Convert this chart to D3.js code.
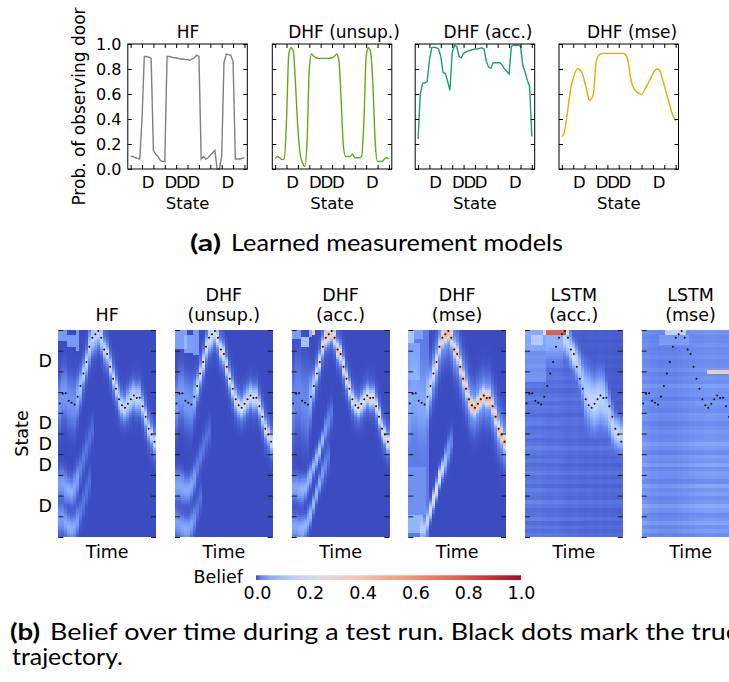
<!DOCTYPE html>
<html><head><meta charset="utf-8">
<script src="https://cdn.jsdelivr.net/npm/d3@7"></script>
<style>body{margin:0;background:#fff}svg{display:block}</style>
</head><body><svg id="c" width="729" height="682"></svg>
<script>
// ---------- (a) measurement models ----------
const statesTop = [0,0.2,0.4,0.6,0.8,1,1.2,1.4,1.6,1.8,2,2.2,2.4,2.6,2.8,3,3.2,3.4,3.6,3.8,4,4.2,4.4,4.6,4.8,5,5.2,5.4,5.6,5.8,6,6.2,6.4,6.6,6.8,7,7.2,7.4,7.6,7.8,8,8.2,8.4,8.6,8.8,9,9.2,9.4,9.6,9.8,10];
const stateTicks = [0,1,2,3,4,5,6,7,8,9,10];
const doorStates = [1.5,3.5,4.5,5.5,8.5];
const probTicks = [0,0.2,0.4,0.6,0.8,1.0];
const topTitles = ["HF","DHF (unsup.)","DHF (acc.)","DHF (mse)"];
const hfModel = [0.10,0.10,0.09,0.085,0.08,0.40,0.90,0.90,0.895,0.885,0.15,0.12,0.10,0.07,0.06,0.06,0.90,0.90,0.895,0.89,0.89,0.885,0.88,0.88,0.875,0.875,0.87,0.88,0.89,0.91,0.90,0.08,0.10,0.08,0.09,0.11,0.13,0.15,0.0,0.0,0.10,0.85,0.92,0.915,0.91,0.86,0.08,0.08,0.08,0.085,0.09];
const unsupModel = [0.085,0.10,0.09,0.075,0.08,0.39,0.92,0.97,0.94,0.66,0.32,0.12,0.05,0.02,0.20,0.80,0.92,0.90,0.89,0.885,0.885,0.885,0.885,0.885,0.887,0.89,0.90,0.92,0.87,0.55,0.18,0.10,0.10,0.10,0.12,0.09,0.09,0.09,0.10,0.39,0.90,0.97,0.93,0.65,0.20,0.06,0.06,0.06,0.08,0.09,0.08];
const accModel = [0.24,0.60,0.685,0.69,0.70,0.87,0.97,0.975,0.97,0.96,0.90,0.77,0.765,0.70,0.63,0.93,0.99,0.98,0.90,0.89,0.925,0.935,0.945,0.95,0.955,0.96,0.96,0.965,0.97,0.96,0.86,0.815,0.805,0.85,0.85,0.85,0.85,0.83,0.80,0.78,0.76,0.98,0.99,0.99,0.99,0.985,0.83,0.78,0.71,0.66,0.26];
const mseModel = [0.26,0.29,0.39,0.53,0.65,0.725,0.78,0.805,0.79,0.765,0.70,0.625,0.55,0.56,0.62,0.85,0.905,0.92,0.925,0.925,0.925,0.925,0.925,0.925,0.925,0.925,0.925,0.925,0.915,0.87,0.75,0.67,0.635,0.615,0.605,0.595,0.62,0.655,0.69,0.725,0.76,0.79,0.80,0.79,0.73,0.67,0.60,0.54,0.47,0.42,0.385];

// ---------- (b) belief over time ----------
const heatTitles = [["HF"],["DHF","(unsup.)"],["DHF","(acc.)"],["DHF","(mse)"],["LSTM","(acc.)"],["LSTM","(mse)"]];
const trueState = [6.45,6.92,6.94,6.58,6.48,6.40,6.77,7.29,7.90,8.45,9.19,9.63,9.79,9.95,9.63,9.06,8.84,8.23,7.65,7.16,6.65,6.37,6.24,6.44,6.65,6.84,6.71,6.73,6.32,5.81,5.23,4.95,4.60];
const cbTicks = [0,0.2,0.4,0.6,0.8,1.0];
// main belief ridge (peak, spread) per time step
const hfMainAmp = [0.03,0.035,0.035,0.03,0.03,0.03,0.04,0.08,0.12,0.14,0.12,0.12,0.12,0.14,0.14,0.16,0.18,0.18,0.18,0.18,0.15,0.15,0.15,0.13,0.13,0.13,0.13,0.13,0.16,0.18,0.18,0.18,0.18];
const hfMainSig = [0.6,0.6,0.6,0.6,0.6,0.6,0.5,0.35,0.25,0.25,0.35,0.35,0.35,0.3,0.3,0.22,0.2,0.2,0.2,0.2,0.25,0.25,0.25,0.3,0.3,0.3,0.3,0.3,0.22,0.2,0.2,0.2,0.2];
const unMainAmp = [0.035,0.035,0.035,0.035,0.035,0.035,0.05,0.15,0.2,0.22,0.2,0.2,0.2,0.22,0.25,0.3,0.3,0.3,0.25,0.22,0.22,0.2,0.22,0.2,0.18,0.18,0.18,0.18,0.2,0.22,0.22,0.22,0.25];
const unMainSig = [0.6,0.6,0.6,0.6,0.6,0.6,0.45,0.25,0.22,0.22,0.25,0.3,0.3,0.25,0.2,0.2,0.2,0.2,0.2,0.2,0.22,0.22,0.22,0.25,0.25,0.25,0.25,0.25,0.22,0.2,0.2,0.2,0.2];
const acMainAmp = [0.02,0.02,0.02,0.02,0.02,0.025,0.05,0.12,0.25,0.28,0.32,0.35,0.38,0.4,0.4,0.42,0.4,0.38,0.32,0.28,0.28,0.26,0.26,0.25,0.25,0.25,0.25,0.26,0.28,0.3,0.3,0.3,0.32];
const acMainSig = [0.9,0.9,0.9,0.9,0.9,0.9,0.6,0.3,0.2,0.2,0.2,0.2,0.2,0.2,0.2,0.2,0.2,0.2,0.2,0.2,0.2,0.2,0.2,0.22,0.22,0.22,0.22,0.22,0.2,0.2,0.2,0.2,0.2];
const msMainAmp = [0.04,0.04,0.04,0.04,0.04,0.04,0.06,0.12,0.2,0.25,0.3,0.4,0.42,0.45,0.42,0.4,0.4,0.4,0.4,0.4,0.45,0.45,0.45,0.42,0.42,0.42,0.45,0.45,0.42,0.42,0.42,0.45,0.45];
const msMainSig = [1.0,1.0,1.0,1.0,1.0,1.0,0.7,0.35,0.25,0.22,0.2,0.2,0.2,0.2,0.2,0.2,0.2,0.2,0.2,0.2,0.2,0.2,0.2,0.2,0.2,0.2,0.2,0.2,0.2,0.2,0.2,0.2,0.2];
// secondary hypotheses: [time, state, peak, spread]
const hfTrackA = [[0,2.6,0.04,0.35],[1,2.6,0.045,0.35],[2,2.4,0.05,0.35],[3,2.3,0.06,0.3],[4,2.2,0.06,0.3],[5,2.4,0.05,0.35],[6,2.8,0.04,0.35],[7,3.3,0.015,0.3],[8,3.8,0.012,0.3],[9,4.3,0.01,0.3],[10,4.8,0.008,0.3],[11,5.2,0.006,0.3]];
const hfTrackB = [[0,0.9,0.04,0.35],[1,0.9,0.04,0.35],[2,0.7,0.05,0.3],[3,0.5,0.06,0.3],[4,0.4,0.06,0.3],[5,0.5,0.05,0.3],[6,0.8,0.04,0.3],[7,1.2,0.012,0.3],[8,1.7,0.01,0.3],[9,2.2,0.008,0.3],[10,2.7,0.006,0.3]];
const unTrackA = [[0,2.5,0.05,0.35],[1,2.5,0.05,0.35],[2,2.4,0.05,0.35],[3,2.3,0.055,0.3],[4,2.3,0.055,0.3],[5,2.5,0.05,0.3],[6,2.9,0.04,0.3],[7,3.4,0.015,0.3],[8,3.9,0.012,0.3],[9,4.4,0.01,0.3],[10,4.8,0.008,0.3],[11,5.1,0.006,0.3]];
const unTrackB = [[0,0.7,0.045,0.3],[1,0.6,0.045,0.3],[2,0.5,0.05,0.3],[3,0.4,0.055,0.3],[4,0.4,0.05,0.3],[5,0.6,0.045,0.3],[6,0.9,0.03,0.3],[7,1.4,0.01,0.3],[8,1.9,0.008,0.3]];
const acTrackA = [[0,2.4,0.05,0.3],[1,2.4,0.05,0.3],[2,2.3,0.06,0.3],[3,2.3,0.07,0.3],[4,2.4,0.07,0.25],[5,2.7,0.07,0.25],[6,3.0,0.08,0.22],[7,3.4,0.08,0.2],[8,3.8,0.1,0.2],[9,4.2,0.12,0.2],[10,4.7,0.08,0.2],[11,5.2,0.04,0.25],[12,5.6,0.02,0.3],[13,6.0,0.01,0.3]];
const acTrackB = [[0,0.5,0.05,0.3],[1,0.5,0.05,0.3],[2,0.4,0.06,0.3],[3,0.4,0.07,0.3],[4,0.55,0.07,0.25],[5,0.8,0.07,0.25],[6,1.1,0.08,0.22],[7,1.6,0.08,0.2],[8,2.1,0.08,0.2],[9,2.6,0.06,0.2],[10,3.1,0.04,0.25],[11,3.5,0.02,0.3],[12,3.9,0.01,0.3]];
const msTrackD = [[4,0.3,0.08,0.3],[5,0.4,0.12,0.25],[6,0.8,0.18,0.22],[7,1.3,0.22,0.2],[8,1.8,0.32,0.2],[9,2.3,0.28,0.2],[10,2.9,0.32,0.2],[11,3.3,0.22,0.2],[12,3.7,0.1,0.25],[13,4.2,0.04,0.3],[14,4.6,0.015,0.3]];
const laTrack = [[7,9.5,0.06,0.5],[8,9.5,0.06,0.5],[9,9.5,0.06,0.5],[10,9.5,0.06,0.5],[11,9.5,0.06,0.5],[12,9.5,0.06,0.5],[13,9.6,0.15,0.35],[14,9.4,0.15,0.35],[15,9.1,0.15,0.35],[16,8.8,0.25,0.3],[17,8.5,0.15,0.35],[18,8.1,0.12,0.4],[19,7.6,0.1,0.45],[20,7.0,0.12,0.6],[21,6.8,0.14,0.6],[22,6.6,0.16,0.6],[23,6.5,0.16,0.6],[24,6.6,0.16,0.6],[25,6.7,0.14,0.6],[26,6.6,0.14,0.6],[27,6.3,0.12,0.5],[28,5.9,0.12,0.45],[29,5.4,0.14,0.4],[30,5.1,0.17,0.35],[31,5.0,0.17,0.35],[32,4.9,0.14,0.35]];
// flat regions: [t from, t to, state low, state high, belief]
const hfPatches = [[0,2,9.5,10,0.035],[3,5,9.2,9.8,0.035],[6,6,9.0,10,0.035]];
const unPatches = [[0,3,9.1,10,0.04],[3,5,8.95,9.8,0.04],[6,7,8.8,10,0.035]];
const acPatches = [[0,2,9.6,10,0.04],[3,5,9.2,9.7,0.1],[6,6,9.7,10,0.06],[7,7,9.85,10,0.35]];
const msPatches = [[0,6,0,10,0.012],[0,1,9.4,10,0.1],[2,4,9.6,10,0.03],[0,3,7.6,9.4,0.03],[0,4,0.2,1.1,0.06],[0,5,1.1,3.4,0.015]];
const laPatches = [[7,13,9.85,10,0.7],[6,6,9.85,10,0.2],[14,14,9.85,10,0.15],[0,6,9.0,10,0.04],[2,5,9.3,9.8,0.08],[0,6,7.5,9,0.02]];
const lmPatches = [[8,14,9.85,10,0.15],[6,15,9.3,9.85,0.02],[22,32,7.95,8.05,0.3]];
// LSTM background streaks per state row (0.2 state each) and per-column strength
const laStripes = [0.01,0.006,0.009,0.005,0.012,0.007,0.005,0.01,0.015,0.006,0.008,0.011,0.005,0.009,0.006,0.012,0.008,0.005,0.01,0.006,0.009,0.014,0.008,0.005,0.01,0.008,0.006,0.011,0.009,0.005,0.008,0.01,0.006,0.012,0.008,0.005,0.009,0.006,0.01,0.008,0.005,0.01,0.006,0.009,0.005,0.008,0.01,0.006,0.009,0.01];
const laColFactor = [1.3,1.3,1.2,1.2,1.3,1.2,1.1,1.0,1.0,1.0,1.1,1.0,0.9,0.8,0.7,0.7,0.8,0.8,0.7,0.7,0.6,0.7,0.7,0.6,0.6,0.7,0.6,0.6,0.7,0.6,0.6,0.6,0.6];
const lmStripes = [0.02,0.032,0.022,0.04,0.026,0.02,0.033,0.045,0.026,0.022,0.033,0.026,0.04,0.02,0.03,0.033,0.022,0.04,0.026,0.033,0.02,0.03,0.04,0.026,0.022,0.03,0.024,0.018,0.027,0.03,0.02,0.024,0.03,0.018,0.027,0.024,0.035,0.02,0.024,0.018,0.027,0.02,0.018,0.024,0.02,0.018,0.024,0.02,0.018,0.024];
const lmColFactor = [1.2,1.1,1.0,0.9,0.9,0.8,0.8,0.8,0.8,0.8,0.8,0.8,0.9,0.9,1.0,1.0,1.1,1.1,1.2,1.2,1.2,1.3,1.3,1.3,1.3,1.2,1.2,1.2,1.2,1.2,1.2,1.2,1.2];

const coolwarm = d3.piecewise(d3.interpolateRgb, ["#3b4cc0","#6282ea","#8db0fe","#b8d0f9","#dddcdc","#f5c4ad","#f49a7b","#de604d","#b40426"]);
const color = d3.scaleSequentialSqrt(coolwarm).domain([0,1]).clamp(true);

const svg = d3.select("#c");
const FONT = "DejaVu Sans, sans-serif";
function styleAxis(sel, size){
  sel.select(".domain").remove();
  sel.attr("font-family",FONT).attr("font-size",size||16);
  sel.selectAll("line").attr("stroke","#000");
  sel.selectAll("text").attr("fill","#000");
}

// ===== top row =====
const topX = [127.8,272.3,415.2,559];
const topTitleX = [188,344,488,632];
const topData = [hfModel,unsupModel,accModel,mseModel];
const topColors = ["#7f7f7f","#66a61e","#1b9e77","#e6ab02"];
const topCurves = [d3.curveLinear,d3.curveMonotoneX,d3.curveLinear,d3.curveMonotoneX];
const TW = 119.5, TY0 = 44, TY1 = 169;
topData.forEach((vals,i)=>{
  const g = svg.append("g");
  const x = d3.scaleLinear().domain([-0.25,10.25]).range([topX[i], topX[i]+TW]);
  const y = d3.scaleLinear().domain([0,1]).range([TY1,TY0]);
  g.append("path").datum(vals)
    .attr("d", d3.line().x((d,k)=>x(statesTop[k])).y(d=>y(d)).curve(topCurves[i]))
    .attr("fill","none").attr("stroke",topColors[i]).attr("stroke-width",1.4);
  g.append("rect").attr("x",topX[i]).attr("y",TY0).attr("width",TW).attr("height",TY1-TY0)
    .attr("fill","none").attr("stroke","#000").attr("stroke-width",1);
  g.append("g").attr("transform",`translate(0,${TY1})`).call(d3.axisBottom(x).tickValues(stateTicks).tickSize(-4).tickFormat("")).call(styleAxis);
  g.append("g").attr("transform",`translate(0,${TY0})`).call(d3.axisTop(x).tickValues(stateTicks).tickSize(-4).tickFormat("")).call(styleAxis);
  g.append("g").attr("transform",`translate(${topX[i]},0)`).call(d3.axisLeft(y).tickValues(probTicks).tickSize(-4).tickPadding(6.3).tickFormat(i===0?d3.format(".1f"):()=>"")).call(s=>styleAxis(s,16));
  g.append("g").attr("transform",`translate(${topX[i]+TW},0)`).call(d3.axisRight(y).tickValues(probTicks).tickSize(-4).tickFormat("")).call(styleAxis);
  g.append("g").attr("transform",`translate(0,${TY1})`).call(d3.axisBottom(x).tickValues(doorStates).tickSize(0).tickPadding(7.3).tickFormat(()=>"D")).call(s=>styleAxis(s,16.5));
  g.append("text").attr("x",topTitleX[i]).attr("y",38).attr("text-anchor","middle")
    .attr("font-family",FONT).attr("font-size",17).text(topTitles[i]);
  g.append("text").attr("x",topX[i]+TW/2).attr("y",209).attr("text-anchor","middle")
    .attr("font-family",FONT).attr("font-size",16.5).text("State");
});
svg.append("text").attr("transform","translate(85,106.5) rotate(-90)").attr("text-anchor","middle")
  .attr("font-family",FONT).attr("font-size",17).text("Prob. of observing door");

// captions
function caption(x,y,len,txt,bold){
  svg.append("text").attr("x",x).attr("y",y).attr("font-family","Lato, 'Open Sans', sans-serif")
    .attr("font-size",23).attr("font-weight",bold?"bold":"normal")
    .attr("textLength",len).attr("lengthAdjust","spacingAndGlyphs").attr("fill","#000").text(txt);
}
caption(190,251,31,"(a)",true);
caption(231,251,332,"Learned measurement models",false);
caption(10,640,30,"(b)",true);
caption(50,640,690,"Belief over time during a test run.  Black dots mark the true",false);
caption(12,665,111,"trajectory.",false);

// ===== heatmaps =====
function gauss(s,c,a,sg){const z=(s-c)/sg;return a*Math.exp(-0.5*z*z);}
const panels = [
  {amp:hfMainAmp,sig:hfMainSig,halo:[0.03,0.4],tracks:[hfTrackA,hfTrackB],patches:hfPatches},
  {amp:unMainAmp,sig:unMainSig,halo:[0.03,0.4],tracks:[unTrackA,unTrackB],patches:unPatches},
  {amp:acMainAmp,sig:acMainSig,halo:[0.025,0.4],tracks:[acTrackA,acTrackB],patches:acPatches},
  {amp:msMainAmp,sig:msMainSig,halo:[0.05,0.55],tracks:[msTrackD],patches:msPatches},
  {tracks:[laTrack],patches:laPatches,stripes:laStripes,col:laColFactor,darkAbove:true},
  {tracks:[],patches:lmPatches,stripes:lmStripes,col:lmColFactor}
];
function belief(p,t,s){
  let v=0;
  if(p.amp){
    v+=gauss(s,trueState[t],p.amp[t],p.sig[t]);
    if(t>=6) v+=gauss(s,trueState[t],p.halo[0],p.halo[1]);
  }
  p.tracks.forEach(tr=>tr.forEach(e=>{ if(e[0]===t) v+=gauss(s,e[1],e[2],e[3]); }));
  p.patches.forEach(q=>{ if(t>=q[0]&&t<=q[1]&&s>=q[2]&&s<=q[3]) v+=q[4]; });
  if(p.stripes){
    let f=p.col[t];
    if(p.darkAbove && t>=13 && s>trueState[t]+0.8) f*=0.3;
    v+=p.stripes[Math.min(49,Math.floor(s/0.2))]*f;
  }
  return Math.max(0,Math.min(1,v));
}
const HX = [58.3,175,291.7,408.3,525,641.7], HW = 97.7, HY0 = 330, HY1 = 537;
const times = d3.range(trueState.length);
const rows = d3.range(100);
panels.forEach((p,i)=>{
  const g = svg.append("g");
  const xT = d3.scaleBand().domain(times).range([HX[i],HX[i]+HW]);
  const yS = d3.scaleLinear().domain([0,10]).range([HY1,HY0]);
  const cells = d3.cross(times,rows).map(([t,r])=>({t,r,v:belief(p,t,(r+0.5)*0.1)}));
  g.append("g").selectAll("rect").data(cells).join("rect")
    .attr("x",d=>xT(d.t)).attr("width",xT.bandwidth()+0.4)
    .attr("y",d=>yS((d.r+1)*0.1)).attr("height",d=>yS(d.r*0.1)-yS((d.r+1)*0.1)+0.4)
    .attr("fill",d=>color(d.v)).attr("shape-rendering","crispEdges");
  g.append("g").selectAll("circle").data(times).join("circle")
    .attr("cx",t=>xT(t)+xT.bandwidth()/2).attr("cy",t=>yS(trueState[t])).attr("r",1)
    .attr("fill","#111");
  const la = g.append("g").attr("transform",`translate(${HX[i]},0)`).call(d3.axisLeft(yS).tickValues(stateTicks).tickSize(-5).tickFormat("")).call(styleAxis);
  la.selectAll("line").attr("stroke","#1a1a1a");
  const ra = g.append("g").attr("transform",`translate(${HX[i]+HW},0)`).call(d3.axisRight(yS).tickValues(stateTicks).tickSize(-5).tickFormat("")).call(styleAxis);
  ra.selectAll("line").attr("stroke","#1a1a1a");
  if(i===0){
    g.append("g").attr("transform",`translate(${HX[i]},0)`).call(d3.axisLeft(yS).tickValues(doorStates).tickSize(0).tickPadding(6.3).tickFormat(()=>"D")).call(s=>styleAxis(s,17.5));
  }
  const cx = HX[i]+HW/2;
  const lines = heatTitles[i];
  lines.forEach((ln,k)=>{
    const yy = lines.length===1 ? 321 : (k===0?300.7:320.5);
    g.append("text").attr("x",cx).attr("y",yy).attr("text-anchor","middle").attr("font-family",FONT).attr("font-size",17.5).text(ln);
  });
  g.append("text").attr("x",cx).attr("y",558).attr("text-anchor","middle").attr("font-family",FONT).attr("font-size",17.5).text("Time");
});
svg.append("text").attr("transform","translate(28,433.5) rotate(-90)").attr("text-anchor","middle")
  .attr("font-family",FONT).attr("font-size",17.5).text("State");

// ===== colorbar =====
const cb = d3.scaleLinear().domain([0,1]).range([257,521]);
const grad = svg.append("defs").append("linearGradient").attr("id","cbg");
grad.selectAll("stop").data(d3.range(0,1.0001,0.02)).join("stop")
  .attr("offset",d=>d).attr("stop-color",d=>color(d));
svg.append("rect").attr("x",256).attr("y",575.3).attr("width",265).attr("height",4.7).attr("fill","url(#cbg)");
svg.append("g").attr("transform","translate(0,580)").call(d3.axisBottom(cb).tickValues(cbTicks).tickSize(0).tickPadding(7).tickFormat(d3.format(".1f"))).call(s=>styleAxis(s,17.5));
svg.append("text").attr("x",243).attr("y",583).attr("text-anchor","end").attr("font-family",FONT).attr("font-size",17.5).text("Belief");
</script></body></html>
